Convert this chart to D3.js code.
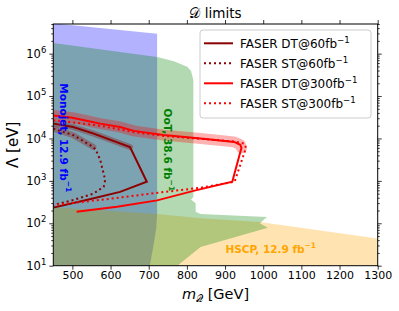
<!DOCTYPE html>
<html>
<head>
<meta charset="utf-8">
<script src="https://cdn.jsdelivr.net/npm/d3@7"></script>
<style>
  body { margin: 0; background: #fff; }
  text { font-family: "DejaVu Sans", sans-serif; }
</style>
</head>
<body>
<svg id="chart" width="399" height="311"></svg>
<script>
const width = 399;
const height = 311;
const margin = { top: 24, right: 21.3, bottom: 45.3, left: 53.3 };

// axis ticks
const xTicks = [500, 600, 700, 800, 900, 1000, 1100, 1200, 1300];
const yTicks = [10, 100, 1e3, 1e4, 1e5, 1e6];

// excluded regions (mass in GeV, Lambda in eV)
const monojetM = [450, 722, 722, 720, 713, 703, 450];
const monojetL = [5.2e6, 2.95e6, 170, 80, 32, 10, 10];

const ootM = [450, 722, 766, 801, 811, 817, 817, 811, 823, 823, 836, 1010, 991, 1012, 836, 775, 450];
const ootL = [1.78e6, 8.3e5, 6.6e5, 4.9e5, 3.9e5, 2.35e5, 417, 363, 295, 186, 166, 141, 100, 78, 27.5, 10, 10];

const hscpM = [450, 722, 836, 991, 1300, 1300, 450];
const hscpL = [240, 166, 132, 107, 43.6, 10, 10];

// FASER curves
const dt60M = [450, 502, 554, 651, 695, 625, 537, 450];
const dt60L = [22400, 18600, 13200, 6300, 955, 550, 355, 234];

const st60M = [450, 502, 555, 562, 573, 586, 582, 555, 503, 450];
const st60L = [17000, 12000, 6300, 5250, 3090, 1050, 725, 500, 355, 270];

const dt300M = [450, 500, 537, 573, 625, 661, 739, 836, 924, 940, 943, 919, 820, 722, 617, 511];
const dt300L = [34700, 30900, 26300, 22400, 18600, 15100, 12000, 10000, 8300, 7100, 6000, 955, 590, 347, 245, 186];

const st300M = [450, 500, 573, 661, 739, 836, 924, 950, 955, 925, 836, 704, 600, 500, 450];
const st300L = [26900, 24000, 20000, 14100, 11500, 9800, 8500, 7600, 6000, 955, 690, 500, 380, 300, 270];

// uncertainty bands follow the upper branch of each DT/ST curve
const band60Count = 4;
const bandSt60Count = 3;
const band300Count = 11;

const svg = d3.select("#chart");
const iw = width - margin.left - margin.right;
const ih = height - margin.top - margin.bottom;

const x = d3.scaleLinear().domain([450, 1300]).range([0, iw]);
const y = d3.scaleLog().domain([10, 5e6]).range([ih, 0]);

const g = svg.append("g").attr("transform", `translate(${margin.left},${margin.top})`);

g.append("clipPath").attr("id", "plot-clip")
  .append("rect").attr("width", iw).attr("height", ih);

const plot = g.append("g").attr("clip-path", "url(#plot-clip)");

const zip = (ms, ls) => ms.map((m, i) => [m, ls[i]]);
const line = d3.line().x(d => x(d[0])).y(d => y(d[1]));

// regions
const regions = [
  { m: monojetM, l: monojetL, color: "blue" },
  { m: hscpM, l: hscpL, color: "orange" },
  { m: ootM, l: ootL, color: "green" }
];
regions.forEach(r => {
  plot.append("path")
    .attr("d", line(zip(r.m, r.l)) + "Z")
    .attr("fill", r.color)
    .attr("fill-opacity", 0.3);
});

// bands
const bands = [
  { m: dt300M.slice(0, band300Count), l: dt300L.slice(0, band300Count), color: "red", w: 11 },
  { m: dt60M.slice(0, band60Count), l: dt60L.slice(0, band60Count), color: "darkred", w: 6 },
  { m: st60M.slice(0, bandSt60Count), l: st60L.slice(0, bandSt60Count), color: "darkred", w: 6 }
];
bands.forEach(b => {
  plot.append("path")
    .attr("d", line(zip(b.m, b.l)))
    .attr("fill", "none")
    .attr("stroke", b.color)
    .attr("stroke-opacity", 0.3)
    .attr("stroke-width", b.w)
    .attr("stroke-linecap", "round")
    .attr("stroke-linejoin", "round");
});

// curves
const curves = [
  { m: dt60M, l: dt60L, color: "darkred", dash: null, label: "FASER DT@60fb" },
  { m: st60M, l: st60L, color: "darkred", dash: "2,3", label: "FASER ST@60fb" },
  { m: dt300M, l: dt300L, color: "red", dash: null, label: "FASER DT@300fb" },
  { m: st300M, l: st300L, color: "red", dash: "2,3", label: "FASER ST@300fb" }
];
curves.forEach(c => {
  plot.append("path")
    .attr("d", line(zip(c.m, c.l)))
    .attr("fill", "none")
    .attr("stroke", c.color)
    .attr("stroke-width", 2)
    .attr("stroke-dasharray", c.dash);
});

// region labels
function superText(sel, base, sup) {
  sel.append("tspan").text(base);
  sel.append("tspan").attr("dy", -4.5).attr("font-size", "0.72em").text(sup);
}

const monoLab = g.append("text")
  .attr("transform", `translate(${x(476)},${y(2e5)}) rotate(90)`)
  .attr("dominant-baseline", "middle")
  .attr("font-size", 10.5).attr("font-weight", "bold").attr("fill", "blue");
superText(monoLab, "Monojet, 12.9 fb", "\u22121");

const ootLab = g.append("text")
  .attr("transform", `translate(${x(747)},${y(5.1e4)}) rotate(90)`)
  .attr("dominant-baseline", "middle")
  .attr("font-size", 10.5).attr("font-weight", "bold").attr("fill", "green");
superText(ootLab, "OoT, 38.6 fb", "\u22121");

const hscpLab = g.append("text")
  .attr("x", x(901)).attr("y", y(20))
  .attr("font-size", 10.5).attr("font-weight", "bold").attr("fill", "orange");
superText(hscpLab, "HSCP, 12.9 fb", "\u22121");

// axes
const minorY = y.ticks().filter(t => !yTicks.includes(t));

const xAxis = g.append("g").attr("transform", `translate(0,${ih})`)
  .call(d3.axisBottom(x).tickValues(xTicks).tickSize(4).tickPadding(2).tickFormat(d3.format("d")));
xAxis.selectAll("text").attr("font-size", 11).attr("fill", "#000").attr("font-family", "DejaVu Sans");

g.append("g")
  .call(d3.axisTop(x).tickValues(xTicks).tickSize(4).tickFormat(""));

const yAxis = g.append("g")
  .call(d3.axisLeft(y).tickValues(yTicks).tickSize(4).tickPadding(3).tickFormat(""));
yAxis.selectAll(".tick").each(function (d) {
  const t = d3.select(this).append("text")
    .attr("x", -7).attr("dy", "0.32em")
    .attr("text-anchor", "end").attr("font-size", 11.5).attr("fill", "#000");
  t.append("tspan").text("10");
  t.append("tspan").attr("dy", -5).attr("font-size", 8.5).text(Math.round(Math.log10(d)));
});
g.append("g")
  .call(d3.axisLeft(y).tickValues(minorY).tickSize(2).tickFormat(""));

g.append("g").attr("transform", `translate(${iw},0)`)
  .call(d3.axisRight(y).tickValues(yTicks).tickSize(4).tickFormat(""));
g.append("g").attr("transform", `translate(${iw},0)`)
  .call(d3.axisRight(y).tickValues(minorY).tickSize(2).tickFormat(""));

g.selectAll(".domain").remove();
g.selectAll(".tick line").attr("stroke", "#000").attr("stroke-width", 0.8);

g.append("rect").attr("width", iw).attr("height", ih)
  .attr("fill", "none").attr("stroke", "#000").attr("stroke-width", 1);

// legend
const legend = g.append("g").attr("transform", `translate(${200 - margin.left},${30 - margin.top})`);
legend.append("rect")
  .attr("width", 171).attr("height", 88).attr("rx", 3)
  .attr("fill", "#fff").attr("fill-opacity", 0.8)
  .attr("stroke", "#ccc").attr("stroke-width", 1);
curves.forEach((c, i) => {
  const yy = 13.3 + i * 20;
  legend.append("line")
    .attr("x1", 4).attr("x2", 33).attr("y1", yy).attr("y2", yy)
    .attr("stroke", c.color).attr("stroke-width", 2)
    .attr("stroke-dasharray", c.dash);
  const t = legend.append("text")
    .attr("x", 40).attr("y", yy).attr("dy", "0.35em")
    .attr("font-size", 12).attr("fill", "#000");
  superText(t, c.label, "\u22121");
});

// title and axis labels
svg.append("text")
  .attr("x", margin.left + iw / 2).attr("y", 18)
  .attr("text-anchor", "middle").attr("font-size", 13.5)
  .text("\u{1D49F} limits");

const xl = svg.append("text")
  .attr("x", margin.left + iw / 2).attr("y", 298.5)
  .attr("text-anchor", "middle").attr("font-size", 14.5);
xl.append("tspan").attr("font-style", "italic").text("m");
xl.append("tspan").attr("dy", 3).attr("font-size", 10).text("\u{1D4AC}");
xl.append("tspan").attr("dy", -3).text(" [GeV]");

svg.append("text")
  .attr("transform", `translate(18,${margin.top + ih / 2}) rotate(-90)`)
  .attr("text-anchor", "middle").attr("font-size", 15)
  .text("\u039B [eV]");
</script>
</body>
</html>
